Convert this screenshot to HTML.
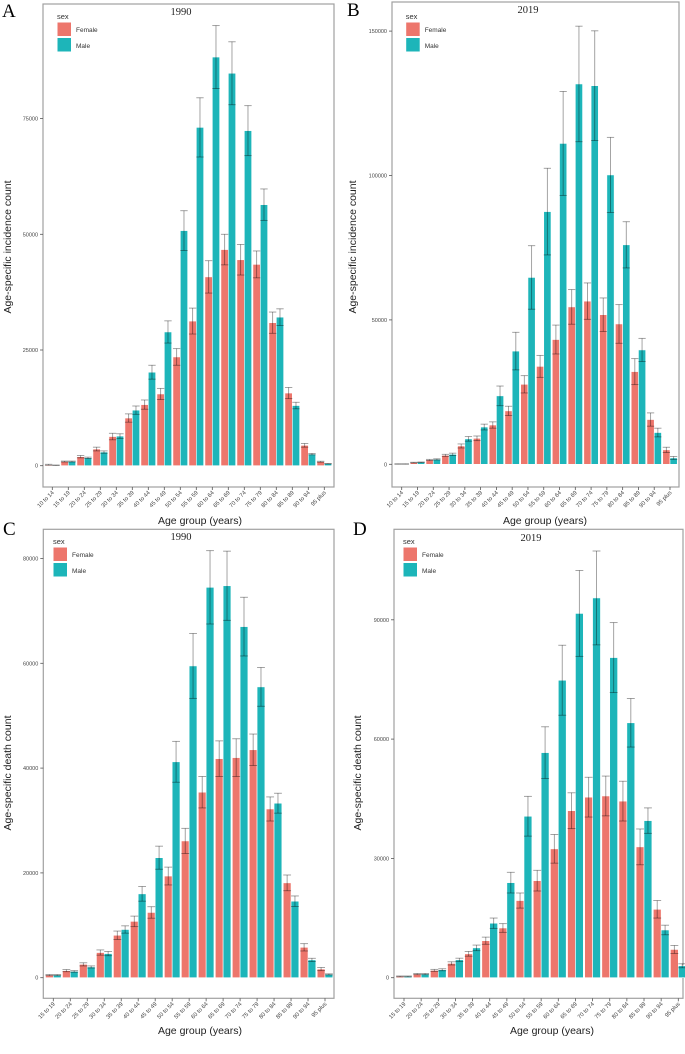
<!DOCTYPE html>
<html><head><meta charset="utf-8"><style>
body{margin:0;background:#fff;}
svg{display:block;font-family:"Liberation Sans",sans-serif;}
</style></head><body>
<svg id="fig" width="685" height="1054" viewBox="0 0 685 1054"></svg>
<script>
const catsA = ["10 to 14","15 to 19","20 to 24","25 to 29","30 to 34","35 to 39","40 to 44","45 to 49","50 to 54","55 to 59","60 to 64","65 to 69","70 to 74","75 to 79","80 to 84","85 to 89","90 to 94","95 plus"];
const catsC = ["15 to 19","20 to 24","25 to 29","30 to 34","35 to 39","40 to 44","45 to 49","50 to 54","55 to 59","60 to 64","65 to 69","70 to 74","75 to 79","80 to 84","85 to 89","90 to 94","95 plus"];

const incFemale1990 = [200,900,1950,3600,6300,10300,13200,15500,23500,31250,40800,46700,44500,43500,30900,15700,4400,860];
const incMale1990 = [100,900,1700,2950,6400,12000,20200,28900,50800,73100,88300,84800,72400,56400,32100,13000,2500,430];
const incFemale1990Err = [100,100,250,400,700,900,1000,1200,1800,2800,3500,3300,3300,2900,2300,1200,400,100];
const incMale1990Err = [50,100,150,250,500,900,1500,2400,4300,6400,6800,6800,5400,3400,1800,700,150,50];

const incFemale2019 = [100,600,1500,3100,6350,9000,13600,18500,27700,33900,43200,54500,56500,51800,48600,32100,15500,5000];
const incMale2019 = [100,700,1700,3450,8800,12900,23700,39200,64700,87500,111100,131700,131100,100200,76000,39600,11000,2200];
const incFemale2019Err = [50,100,200,350,700,800,1100,1600,3000,3800,5000,6000,6300,5800,6700,4500,2300,900];
const incMale2019Err = [50,100,200,400,800,1000,3400,6500,11000,15000,18000,20000,19000,13000,8000,4000,1500,500];

const dthFemale1990 = [500,1350,2550,4800,8100,10750,12450,19400,26100,35400,41800,42000,43500,32200,18100,5800,1650];
const dthMale1990 = [500,1200,2050,4600,9200,16000,22900,41200,59500,74500,74800,67000,55500,33300,14600,3400,640];
const dthFemale1990Err = [100,200,300,500,800,1000,1100,1700,2400,3000,3400,3600,3000,2300,1500,700,300];
const dthMale1990Err = [100,150,200,400,700,1400,2200,3900,6200,7000,6600,5600,3700,1900,1000,300,100];

const dthFemale2019 = [330,920,1840,3600,6000,9300,12500,19400,24400,32400,42000,45400,45700,44400,32900,17200,7100];
const dthMale2019 = [330,920,2000,4500,7500,13700,23900,40600,56600,74800,91600,95500,80500,64100,39500,12000,3000];
const dthFemale2019Err = [100,150,250,400,600,900,1100,1900,2600,3600,4500,5000,5000,5000,4500,2200,1000];
const dthMale2019Err = [100,150,250,400,700,1300,2600,5000,6500,8800,10800,11800,8800,6100,3200,1200,500];

const ticksA = [0,25000,50000,75000];
const ticksB = [0,50000,100000,150000];
const ticksC = [0,20000,40000,60000,80000];
const ticksD = [0,30000,60000,90000];

const NS = "http://www.w3.org/2000/svg";
const svg = document.getElementById('fig');
function mk(tag, attrs, parent, text){
  const e = document.createElementNS(NS, tag);
  for (const k in attrs) e.setAttribute(k, attrs[k]);
  if (text !== undefined) e.textContent = text;
  (parent||svg).appendChild(e);
  return e;
}

function panel(p){
  const g = mk('g', {});
  
  
  // frame
  const fr = mk('rect', {x:p.L, y:p.T, width:p.R-p.L, height:p.B-p.T, fill:'#fff', stroke:'#a0a0a0', 'stroke-width':1.2}, g);
  
  
  const y = v => p.y0 - (v - 0) * p.ppu;
  const n = p.cats.length;
  const x = i => p.x0 + i * (p.x1 - p.x0) / (n - 1);
  const sp = (p.x1 - p.x0) / (n - 1);
  const bw = sp * 0.46;
  // y ticks
  p.ticks.forEach(t => {
    mk('line', {x1:p.L-3, x2:p.L, y1:y(t), y2:y(t), stroke:'#555', 'stroke-width':0.8}, g);
    const tl = mk('text', {x:p.L-5, y:y(t)+2, 'text-anchor':'end', 'font-size':5.5, fill:'#444'}, g, String(t));
    
    
  });
  // bars
  const series = [[p.f, p.fe, '#ED766C', 'female'], [p.m, p.me, '#1DB5B9', 'male']];
  p.cats.forEach((c, i) => {
    series.forEach((s, k) => {
      const v = s[0][i];
      const bx = x(i) - bw + k * bw;
      const r = mk('rect', {x:bx, y:y(v), width:bw, height:Math.max(0, y(0)-y(v)), fill:s[2], stroke:'#fff', 'stroke-width':0.6}, g);
      
      
    });
    series.forEach((s, k) => {
      const v = s[0][i], e = s[1][i];
      const cx = x(i) - bw / 2 + k * bw;
      const eg = mk('g', {stroke:'rgba(0,0,0,0.4)', 'stroke-width':0.9}, g);
      
      
      mk('line', {x1:cx, x2:cx, y1:y(v+e), y2:y(v-e)}, eg);
      mk('line', {x1:cx-bw/2, x2:cx+bw/2, y1:y(v+e), y2:y(v+e)}, eg);
      mk('line', {x1:cx-bw/2, x2:cx+bw/2, y1:y(v-e), y2:y(v-e)}, eg);
    });
    mk('line', {x1:x(i), x2:x(i), y1:p.B, y2:p.B+3, stroke:'#555', 'stroke-width':0.8}, g);
    const tx = x(i) + 2, ty = p.B + 6;
    const xl = mk('text', {x:tx, y:ty, 'text-anchor':'end', 'font-size':5.8, fill:'#444', transform:`rotate(-45 ${tx} ${ty})`}, g, c);
    
    
  });
  // title
  const tt = mk('text', {x:p.tx, y:p.ty, 'text-anchor':'middle', 'font-size':10.5, 'font-family':'"Liberation Serif",serif', fill:'#222'}, g, p.title);
  
  
  const lt = mk('text', {x:p.lx, y:p.ly, 'font-size':19, 'font-family':'"Liberation Serif",serif', fill:'#000'}, g, p.letter);
  
  
  // legend
  const lg = mk('g', {}, g);
  
  
  mk('text', {x:p.gx, y:p.gy, 'font-size':7.5, fill:'#333'}, lg, 'sex');
  const fe = mk('rect', {x:p.gx, y:p.gy+3, width:14.5, height:14.5, fill:'#ED766C', stroke:'#fff'}, lg);
  
  
  mk('text', {x:p.gx+19, y:p.gy+13, 'font-size':6.5, fill:'#333'}, lg, 'Female');
  const me = mk('rect', {x:p.gx, y:p.gy+18.5, width:14.5, height:14.5, fill:'#1DB5B9', stroke:'#fff'}, lg);
  
  
  mk('text', {x:p.gx+19, y:p.gy+29, 'font-size':6.5, fill:'#333'}, lg, 'Male');
  // axis titles
  const xt = mk('text', {x:p.xtx, y:p.xty, 'text-anchor':'middle', 'font-size':10.5, fill:'#222'}, g, 'Age group (years)');
  
  
  const yt = mk('text', {x:p.ytx, y:p.yty, 'text-anchor':'middle', 'font-size':10.5, fill:'#222', transform:`rotate(-90 ${p.ytx} ${p.yty})`}, g, p.ytitle);
  
  
}

panel({id:'a', letter:'A', title:'1990', cats:catsA, f:incFemale1990, m:incMale1990, fe:incFemale1990Err, me:incMale1990Err, ticks:ticksA,
  L:43, T:4, R:334, B:487, y0:465.7, ppu:115.7/25000, x0:52.3, x1:324.3,
  tx:181, ty:15, lx:2, ly:17, gx:57, gy:19, xtx:200, xty:524, ytx:11, yty:247, ytitle:'Age-specific incidence count'});
panel({id:'b', letter:'B', title:'2019', cats:catsA, f:incFemale2019, m:incMale2019, fe:incFemale2019Err, me:incMale2019Err, ticks:ticksB,
  L:392, T:2, R:679, B:487, y0:464.3, ppu:144.4/50000, x0:401.7, x1:670,
  tx:528, ty:13, lx:347, ly:16, gx:405.7, gy:19, xtx:545, xty:524, ytx:356, yty:247, ytitle:'Age-specific incidence count'});
panel({id:'c', letter:'C', title:'1990', cats:catsC, f:dthFemale1990, m:dthMale1990, fe:dthFemale1990Err, me:dthMale1990Err, ticks:ticksC,
  L:43.3, T:529.3, R:334, B:998.3, y0:977.7, ppu:104.8/20000, x0:53.3, x1:325,
  tx:181, ty:540, lx:3, ly:535, gx:53, gy:544, xtx:200, xty:1034, ytx:11, yty:773, ytitle:'Age-specific death count'});
panel({id:'d', letter:'D', title:'2019', cats:catsC, f:dthFemale2019, m:dthMale2019, fe:dthFemale2019Err, me:dthMale2019Err, ticks:ticksD,
  L:394, T:529.3, R:683, B:998.3, y0:977.7, ppu:119.3/30000, x0:404, x1:678.3,
  tx:531, ty:541, lx:353, ly:535, gx:403, gy:544, xtx:552, xty:1034, ytx:361, yty:773, ytitle:'Age-specific death count'});
</script>
</body></html>
